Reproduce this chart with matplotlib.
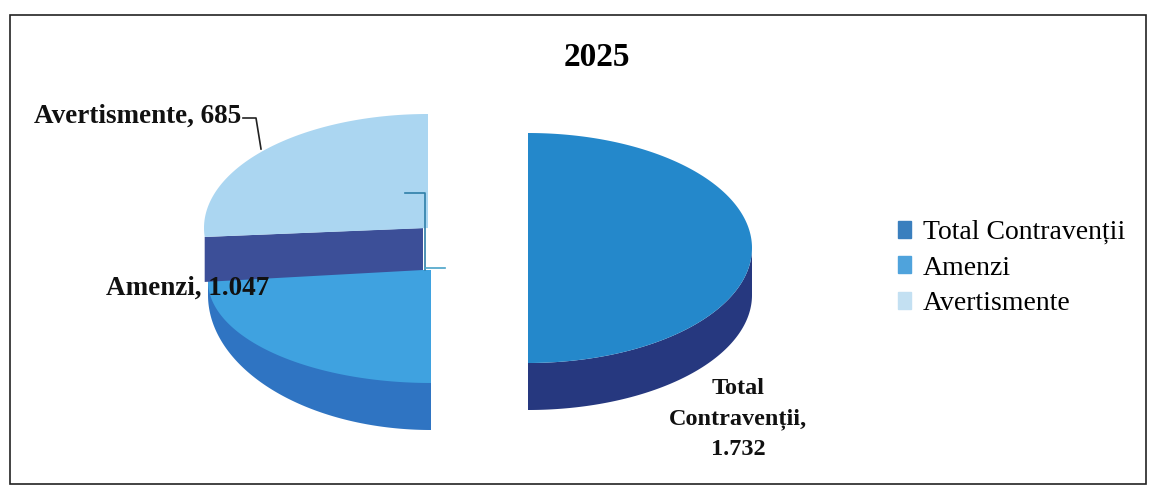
import numpy as np
import matplotlib
matplotlib.use("Agg")
import matplotlib.pyplot as plt
from matplotlib.patches import Patch, Rectangle

plt.rcParams["font.family"] = ["Liberation Serif", "DejaVu Serif"]

categorii = ["Total Contravenții", "Amenzi", "Avertismente"]
valori = ["1.732", "1.047", "685"]

# unghiurile feliilor (grade, masurate pe elipsa)
unghi_start = [-90, 184.5, 90]
unghi_stop = [90, 270, 184.5]

culori_sus = ["#2488cb", "#3fa2e0", "#abd6f1"]
culori_lat = ["#26387f", "#2f74c2", "#3c4f98"]
culori_leg = ["#3a7fbe", "#4fa3dc", "#c3e0f2"]

# centrul fiecarei felii in pixeli (feliile sunt separate)
centre = [(528, 248), (431, 270), (428, 228)]
raze = [(224, 115), (223, 102), (224, 114)]
adancime = 47


def arc(cx, cy, rx, ry, a0, a1):
    t = np.radians(np.linspace(a0, a1, 200))
    return cx + rx * np.cos(t), cy - ry * np.sin(t)


fig = plt.figure(figsize=(11.56, 4.88), dpi=100)
ax = fig.add_axes([0, 0, 1, 1])
ax.set_xlim(0, 1156)
ax.set_ylim(488, 0)
ax.axis("off")

# chenarul
ax.add_patch(Rectangle((10, 15), 1136, 469, fill=False, ec="#222222", lw=1.2))

# Amenzi: conturul exterior e mai inalt decat fata de sus
cx, cy = centre[1]
rx, ry = raze[1]
x, y = arc(cx, 295, rx, 135, 180, unghi_stop[1])
ax.fill(np.r_[cx, x[0], x], np.r_[cy, cy, y], color=culori_lat[1], lw=0)
x, y = arc(cx, 281, rx, ry, 180, unghi_stop[1])
ax.fill(np.r_[cx, x[0], x], np.r_[cy, cy, y], color=culori_sus[1], lw=0)

# Avertismente: peretele taiat apoi fata de sus
cx, cy = centre[2]
rx, ry = raze[2]
x, y = arc(cx, cy, rx, ry, unghi_start[2], unghi_stop[2])
xp = [cx - 5, x[-1], x[-1], cx - 5]
yp = [cy, y[-1], y[-1] + adancime - 2, cy + adancime - 5]
ax.fill(xp, yp, color=culori_lat[2], lw=0)
ax.fill(np.r_[cx, x], np.r_[cy, y], color=culori_sus[2], lw=0)

# Total
cx, cy = centre[0]
rx, ry = raze[0]
x, y = arc(cx, cy, rx, ry, unghi_start[0], 0)
ax.fill(np.r_[x, x[::-1]], np.r_[y, y[::-1] + adancime], color=culori_lat[0], lw=0)
x, y = arc(cx, cy, rx, ry, unghi_start[0], unghi_stop[0])
ax.fill(x, y, color=culori_sus[0], lw=0)

# linii de legatura
ax.plot([243, 256, 261], [118, 118, 149], color="#222222", lw=1.2)
ax.plot([405, 425, 425], [193, 193, 270], color="#2f7fa8", lw=1.2)
ax.plot([425, 445], [268, 268], color="#4aa3c8", lw=1.2)

# texte
ax.text(597, 57, "2025", fontsize=24, fontweight="bold", ha="center", va="center")
ax.text(138, 116, f"{categorii[2]}, {valori[2]}", fontsize=19.5, fontweight="bold",
        ha="center", va="center", color="#111111")
ax.text(188, 288, f"{categorii[1]}, {valori[1]}", fontsize=19.5, fontweight="bold",
        ha="center", va="center", color="#111111")
ax.text(738, 419, "Total\nContravenții,\n" + valori[0], fontsize=17.5, fontweight="bold",
        ha="center", va="center", color="#111111", linespacing=1.55)

# legenda
h = [Patch(color=c, label=n) for c, n in zip(culori_leg, categorii)]
ax.legend(handles=h, loc="upper left", bbox_to_anchor=(898 / 1156, 1 - 220 / 488),
          frameon=False, fontsize=20, handlelength=0.45, handleheight=0.55,
          handletextpad=0.45, labelspacing=0.38, borderpad=0, borderaxespad=0)

fig.savefig("out.png", dpi=100)
